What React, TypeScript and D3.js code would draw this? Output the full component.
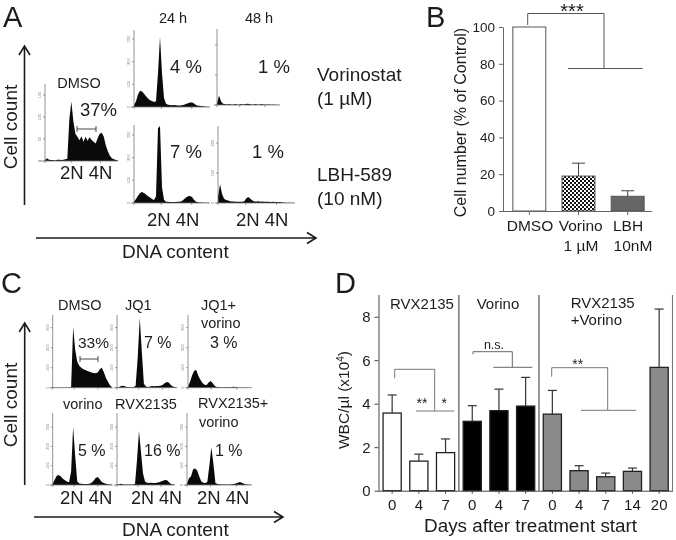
import React, { useRef, useEffect } from 'react';
import * as d3 from 'd3';

const FONT = '"Liberation Sans", Arial, sans-serif';
const INK = '#1c1c1c';
const GREY = '#666';

// Flow histograms, counts per channel
const aDmso = [2, 6, 3, 2, 2, 1, 3, 3, 2, 3, 4, 5, 95, 135, 90, 62, 55, 47, 56, 44, 55, 46, 54, 48, 44, 40, 52, 62, 64, 55, 35, 22, 12, 6, 4, 2, 1];
const aVorino24 = [8, 25, 55, 72, 68, 58, 48, 38, 30, 26, 22, 25, 150, 309, 150, 40, 14, 10, 9, 8, 9, 8, 7, 7, 8, 10, 13, 17, 20, 20, 15, 9, 6, 5, 3, 3, 1, 1, 0];
const aVorino48 = [5, 32, 12, 4, 3, 2, 3, 2, 2, 3, 2, 2, 3, 2, 3, 4, 3, 2, 2, 3, 2, 2, 3, 2, 2, 2, 2, 1, 2, 1, 1, 0];
const aLbh24 = [6, 18, 32, 44, 48, 44, 38, 30, 24, 18, 13, 30, 330, 340, 70, 14, 6, 5, 4, 4, 4, 4, 5, 6, 9, 16, 24, 30, 31, 27, 14, 6, 3, 2, 2, 1, 1, 1, 0];
const aLbh48 = [20, 63, 30, 14, 10, 8, 6, 5, 5, 4, 4, 4, 4, 6, 16, 20, 14, 8, 5, 5, 6, 4, 5, 4, 4, 4, 3, 4, 3, 3, 3, 3, 2, 2, 1, 1, 1, 1, 0];
const cDmso = [1, 1, 1, 1, 1, 1, 1, 1, 1, 3, 303, 190, 130, 110, 100, 92, 88, 84, 80, 76, 74, 72, 76, 92, 100, 78, 50, 30, 12, 2];
const cJq1 = [2, 3, 8, 10, 6, 3, 3, 2, 3, 8, 150, 348, 180, 20, 6, 4, 6, 8, 7, 8, 9, 10, 14, 22, 28, 26, 14, 6, 3, 1];
const cJq1Vorino = [6, 30, 62, 85, 88, 60, 40, 24, 15, 14, 26, 33, 22, 8, 4, 3, 2, 2, 2, 3, 2, 4, 5, 4, 2, 1, 1, 1, 1, 1, 0, 0];
const cVorino = [6, 28, 48, 52, 44, 32, 24, 18, 14, 70, 300, 150, 18, 8, 6, 5, 5, 5, 6, 12, 22, 36, 41, 30, 16, 10, 6, 4, 3, 1];
const cRvx = [2, 4, 6, 3, 2, 2, 2, 2, 2, 5, 130, 280, 170, 60, 18, 12, 10, 12, 10, 11, 12, 14, 18, 22, 26, 24, 14, 5, 2, 1];
const cRvxVorino = [8, 35, 45, 82, 85, 75, 45, 20, 12, 10, 15, 100, 195, 110, 10, 5, 4, 3, 3, 3, 3, 3, 4, 5, 8, 12, 15, 12, 6, 3, 2, 1, 0];

// Panel B
const bCategories = ['DMSO', 'Vorino', 'LBH'];
const bSubLabels = ['', '1 µM', '10nM'];
const bValues = [100, 19, 8];
const bErrors = [0, 26, 11];
const bTicks = [0, 20, 40, 60, 80, 100];

// Panel D
const dDays = ['0', '4', '7', '0', '4', '7', '0', '4', '7', '14', '20'];
const dValues = [3.57, 1.36, 1.75, 3.19, 3.68, 3.89, 3.52, 0.92, 0.64, 0.89, 5.67];
const dErrors = [4.4, 1.68, 2.38, 3.91, 4.67, 5.21, 4.61, 1.15, 0.81, 1.04, 8.35];
const dFills = ['#fff', '#fff', '#fff', '#000', '#000', '#000', '#8a8a8a', '#8a8a8a', '#8a8a8a', '#8a8a8a', '#8a8a8a'];
const dTicks = [0, 2, 4, 6, 8];

const App = () => {
  const svgRef = useRef<SVGSVGElement>(null);

  useEffect(() => {
    const svg = d3.select(svgRef.current);
    svg.selectAll('*').remove();
    svg.attr('font-family', FONT);

    const label = (txt: string, x: number, y: number, size: number, anchor = 'start', fill = INK) =>
      svg.append('text')
        .attr('x', x)
        .attr('y', y)
        .attr('font-size', size)
        .attr('text-anchor', anchor)
        .attr('fill', fill)
        .text(txt);

    const vLabel = (txt: string, x: number, y: number, size: number) =>
      svg.append('text')
        .attr('transform', `translate(${x},${y}) rotate(-90)`)
        .attr('font-size', size)
        .attr('text-anchor', 'middle')
        .attr('fill', INK)
        .text(txt);

    const arrow = (x1: number, y1: number, x2: number, y2: number) => {
      const dx = Math.sign(x2 - x1);
      const dy = Math.sign(y2 - y1);
      const p = d3.path();
      p.moveTo(x1, y1);
      p.lineTo(x2, y2);
      p.moveTo(x2 - dx * 9 - dy * 5.5, y2 - dy * 9 - dx * 5.5);
      p.lineTo(x2, y2);
      p.lineTo(x2 - dx * 9 + dy * 5.5, y2 - dy * 9 + dx * 5.5);
      svg.append('path')
        .attr('d', p.toString())
        .attr('fill', 'none')
        .attr('stroke', INK)
        .attr('stroke-width', 1.6);
    };

    // bracket: drop from (x1,y1) up to yTop, across to x2, down to y2, with a bar under it
    const bracket = (x1: number, y1: number, yTop: number, x2: number, y2: number, barL: number, barR: number, color: string) => {
      const p = d3.path();
      p.moveTo(x1, y1);
      p.lineTo(x1, yTop);
      p.lineTo(x2, yTop);
      p.lineTo(x2, y2);
      p.moveTo(barL, y2);
      p.lineTo(barR, y2);
      svg.append('path')
        .attr('d', p.toString())
        .attr('fill', 'none')
        .attr('stroke', color)
        .attr('stroke-width', 1);
    };

    const histogram = (
      values: number[],
      box: { left: number; right: number; top: number; base: number; stub?: number },
      yMax: number,
      yTicks: number[],
      showTickText = true,
    ) => {
      const x = d3.scaleLinear().domain([0, values.length - 1]).range([box.left, box.right]);
      const y = d3.scaleLinear().domain([0, yMax]).range([box.base, box.top]);
      const g = svg.append('g');

      const area = d3.area<number>()
        .x((d, i) => x(i))
        .y0(box.base)
        .y1(d => y(d));
      g.append('path').attr('d', area(values)).attr('fill', '#0a0a0a');

      g.append('line')
        .attr('x1', box.left).attr('x2', box.left)
        .attr('y1', box.top).attr('y2', box.base)
        .attr('stroke', '#777').attr('stroke-width', 0.8);
      g.append('line')
        .attr('x1', box.left - (box.stub ?? 3)).attr('x2', box.right)
        .attr('y1', box.base).attr('y2', box.base)
        .attr('stroke', '#777').attr('stroke-width', 0.8);

      yTicks.forEach(t => {
        g.append('line')
          .attr('x1', box.left - 2).attr('x2', box.left)
          .attr('y1', y(t)).attr('y2', y(t))
          .attr('stroke', '#777').attr('stroke-width', 0.7);
        if (showTickText) {
          g.append('text')
            .attr('transform', `translate(${box.left - 4},${y(t)}) rotate(-90)`)
            .attr('font-size', 4)
            .attr('text-anchor', 'middle')
            .attr('fill', '#888')
            .text(t);
        }
      });

      // channel ticks along the bottom
      [0, 0.36, 0.76].forEach(f => {
        const tx = box.left + (box.right - box.left) * f;
        g.append('line')
          .attr('x1', tx).attr('x2', tx)
          .attr('y1', box.base).attr('y2', box.base + 2)
          .attr('stroke', '#777').attr('stroke-width', 0.7);
      });
    };

    const gateBar = (x1: number, x2: number, y: number) => {
      const p = d3.path();
      p.moveTo(x1, y - 3);
      p.lineTo(x1, y + 3);
      p.moveTo(x1, y);
      p.lineTo(x2, y);
      p.moveTo(x2, y - 3);
      p.lineTo(x2, y + 3);
      svg.append('path').attr('d', p.toString()).attr('fill', 'none').attr('stroke', '#333').attr('stroke-width', 0.9);
    };

    // ---- Panel A
    label('A', 3, 27, 29);
    arrow(24.5, 205, 24.5, 46);
    vLabel('Cell count', 17, 127, 19);
    arrow(36, 238, 316, 238);
    label('DNA content', 122, 258, 19);

    histogram(aDmso, { left: 45, right: 118, top: 84, base: 161, stub: 6 }, 175, [0, 50, 100, 150]);
    histogram(aVorino24, { left: 134, right: 210, top: 30, base: 107 }, 340, [0, 100, 200, 300]);
    histogram(aVorino48, { left: 217, right: 280, top: 29, base: 105 }, 253, [0, 100, 200], false);
    histogram(aLbh24, { left: 134, right: 210, top: 125, base: 203 }, 344, [0, 100, 200, 300]);
    histogram(aLbh48, { left: 218, right: 295, top: 126, base: 203 }, 257, [0, 100, 200]);
    gateBar(77, 96, 129);

    label('24 h', 173, 23, 14.5, 'middle');
    label('48 h', 259, 23, 14.5, 'middle');
    label('DMSO', 79, 88, 14.5, 'middle');
    label('37%', 80, 116, 18.5);
    label('4 %', 170, 73, 18.5);
    label('1 %', 258, 73, 18.5);
    label('7 %', 170, 158, 18.5);
    label('1 %', 252, 158, 18.5);
    label('2N 4N', 60, 179, 18.5);
    label('2N 4N', 147, 226, 18.5);
    label('2N 4N', 236, 226, 18.5);
    label('Vorinostat', 317, 81, 19);
    label('(1 µM)', 317, 105, 19);
    label('LBH-589', 317, 181, 19);
    label('(10 nM)', 317, 205, 19);

    // ---- Panel B
    label('B', 426, 27, 29);
    const defs = svg.append('defs');
    const checker = defs.append('pattern')
      .attr('id', 'checker')
      .attr('width', 4)
      .attr('height', 4)
      .attr('patternUnits', 'userSpaceOnUse');
    checker.append('rect').attr('width', 4).attr('height', 4).attr('fill', '#fff');
    checker.append('rect').attr('width', 2).attr('height', 2).attr('fill', '#111');
    checker.append('rect').attr('x', 2).attr('y', 2).attr('width', 2).attr('height', 2).attr('fill', '#111');

    const bX = d3.scaleBand<string>().domain(bCategories).range([504, 653]).paddingInner(0.33).paddingOuter(0.18);
    const bY = d3.scaleLinear().domain([0, 100]).range([211, 27]);
    const bFills = ['#fff', 'url(#checker)', '#666'];

    bCategories.forEach((c, i) => {
      const cx = bX(c)! + bX.bandwidth() / 2;
      if (bErrors[i] > 0) {
        svg.append('line')
          .attr('x1', cx).attr('x2', cx)
          .attr('y1', bY(bValues[i])).attr('y2', bY(bErrors[i]))
          .attr('stroke', '#444').attr('stroke-width', 1);
        svg.append('line')
          .attr('x1', cx - 6.5).attr('x2', cx + 6.5)
          .attr('y1', bY(bErrors[i])).attr('y2', bY(bErrors[i]))
          .attr('stroke', '#444').attr('stroke-width', 1);
      }
    });
    svg.selectAll('.bar-b')
      .data(bValues)
      .enter()
      .append('rect')
      .attr('class', 'bar-b')
      .attr('x', (d, i) => bX(bCategories[i])!)
      .attr('y', d => bY(d))
      .attr('width', bX.bandwidth())
      .attr('height', d => 211 - bY(d))
      .attr('fill', (d, i) => bFills[i])
      .attr('stroke', '#555')
      .attr('stroke-width', 1);

    const bAxisY = svg.append('g')
      .attr('transform', 'translate(503,0)')
      .call(d3.axisLeft(bY).tickValues(bTicks).tickSize(4).tickSizeOuter(0));
    bAxisY.selectAll('path,line').attr('stroke', GREY);
    bAxisY.selectAll('text').attr('font-family', FONT).attr('font-size', 13.5).attr('fill', INK).attr('dx', -1);

    const bAxisX = svg.append('g')
      .attr('transform', 'translate(0,211)')
      .call(d3.axisBottom(bX).tickSize(4).tickSizeOuter(0).tickFormat(() => ''));
    bAxisX.selectAll('path,line').attr('stroke', GREY);
    bAxisX.select('path').attr('d', 'M503,0.5H652');

    bCategories.forEach((c, i) => {
      label(c, [530, 580.7, 628][i], 231, 15.5, 'middle');
      if (bSubLabels[i]) label(bSubLabels[i], [530, 581, 633][i], 251, 15.5, 'middle');
    });
    vLabel('Cell number (% of Control)', 466, 122.5, 16);
    bracket(527.7, 25, 13.5, 604, 68.5, 568, 642.7, '#555');
    label('***', 572, 18, 20, 'middle');

    // ---- Panel C
    label('C', 1, 293, 29);
    arrow(24.7, 485, 24.7, 323);
    vLabel('Cell count', 17, 405, 19);
    arrow(34, 517, 283, 517);
    label('DNA content', 122, 536, 19);

    const cTop = { top: 315, base: 387.7 };
    const cBottom = { top: 413, base: 485 };
    histogram(cDmso, { left: 52.7, right: 112, ...cTop }, 363, [0, 100, 200, 300]);
    histogram(cJq1, { left: 117, right: 177, ...cTop }, 363, [0, 100, 200, 300]);
    histogram(cJq1Vorino, { left: 188, right: 252, ...cTop }, 363, [0, 100, 200, 300]);
    histogram(cVorino, { left: 52.7, right: 112, ...cBottom }, 373, [0, 100, 200, 300]);
    histogram(cRvx, { left: 117, right: 175, ...cBottom }, 373, [0, 100, 200, 300]);
    histogram(cRvxVorino, { left: 187, right: 252, ...cBottom }, 373, [0, 100, 200, 300]);
    gateBar(80, 98, 359);

    label('DMSO', 58, 310, 14.5);
    label('JQ1', 125, 310, 14.5);
    label('JQ1+', 201, 310, 14.5);
    label('vorino', 201, 328, 14.5);
    label('33%', 78, 348, 15.5);
    label('7 %', 144, 348, 16);
    label('3 %', 210, 348, 16);
    label('vorino', 63, 409, 14.5);
    label('RVX2135', 115, 409, 14.5);
    label('RVX2135+', 198, 408, 14.5);
    label('vorino', 199, 427, 14.5);
    label('5 %', 78, 456, 16);
    label('16 %', 144, 456, 16);
    label('1 %', 215, 456, 16);
    label('2N 4N', 60, 504, 18.5);
    label('2N 4N', 131, 504, 18);
    label('2N 4N', 197, 504, 18.5);

    // ---- Panel D
    label('D', 335, 293, 29);
    const dX = d3.scaleBand<number>().domain(d3.range(dDays.length)).range([378.8, 672.5]).padding(0.32).paddingOuter(0.16);
    const dY = d3.scaleLinear().domain([0, 8]).range([490.7, 316.7]);
    const center = (i: number) => dX(i)! + dX.bandwidth() / 2;

    // dividers sit between the treatment groups
    [[3, '#444'], [6, '#444'], [11, '#777']].forEach(([i, color]) => {
      const xd = (i as number) < 11 ? center(i as number) - dX.step() / 2 : center(10) + dX.step() / 2;
      svg.append('line')
        .attr('x1', xd).attr('x2', xd)
        .attr('y1', 295).attr('y2', 490.7)
        .attr('stroke', color as string).attr('stroke-width', 1.1);
    });

    dValues.forEach((v, i) => {
      const cx = center(i);
      svg.append('line')
        .attr('x1', cx).attr('x2', cx)
        .attr('y1', dY(v)).attr('y2', dY(dErrors[i]))
        .attr('stroke', '#333').attr('stroke-width', 1.2);
      svg.append('line')
        .attr('x1', cx - 4.5).attr('x2', cx + 4.5)
        .attr('y1', dY(dErrors[i])).attr('y2', dY(dErrors[i]))
        .attr('stroke', '#333').attr('stroke-width', 1.2);
    });
    svg.selectAll('.bar-d')
      .data(dValues)
      .enter()
      .append('rect')
      .attr('class', 'bar-d')
      .attr('x', (d, i) => dX(i)!)
      .attr('y', d => dY(d))
      .attr('width', dX.bandwidth())
      .attr('height', d => 490.7 - dY(d))
      .attr('fill', (d, i) => dFills[i])
      .attr('stroke', '#222')
      .attr('stroke-width', 1.3);

    const dAxisY = svg.append('g')
      .attr('transform', 'translate(378.5,0)')
      .call(d3.axisLeft(dY).tickValues(dTicks).tickSize(4).tickSizeOuter(0));
    dAxisY.selectAll('path,line').attr('stroke', '#444');
    dAxisY.select('path').attr('d', 'M0.5,295V490.7');
    dAxisY.selectAll('text').attr('font-family', FONT).attr('font-size', 15).attr('fill', INK).attr('dx', -1);

    const dAxisX = svg.append('g')
      .attr('transform', 'translate(0,490.7)')
      .call(d3.axisBottom(dX).tickSize(3).tickSizeOuter(0).tickFormat(i => dDays[i as number]));
    dAxisX.selectAll('path,line').attr('stroke', '#444');
    dAxisX.select('path').attr('d', 'M378,0.5H673');
    dAxisX.selectAll('text').attr('font-family', FONT).attr('font-size', 15).attr('fill', INK).attr('y', 9);

    label('Days after treatment start', 424, 532, 18.9);
    label('RVX2135', 390, 309, 15);
    label('Vorino', 476.7, 309, 15);
    label('RVX2135', 570.7, 308, 15);
    label('+Vorino', 570.7, 325, 15);

    const yLab = vLabel('WBC/µl (x10', 349, 400, 15.5);
    yLab.append('tspan').attr('dy', -5).attr('font-size', 10).text('4');
    yLab.append('tspan').attr('dy', 5).text(')');

    bracket(394.7, 378.3, 369.3, 434.7, 411, 416, 454.3, '#777');
    label('**', 422, 408, 14, 'middle');
    label('*', 444.3, 408, 14, 'middle');
    bracket(473, 354.3, 351.7, 512.3, 367.3, 493.3, 532.3, '#666');
    label('n.s.', 494, 349, 12.5, 'middle');
    bracket(551.7, 376.7, 367.7, 607.7, 410.3, 581, 636.3, '#777');
    label('**', 577.7, 369, 14, 'middle');
  }, []);

  return <svg ref={svgRef} width={676} height={540} style={{ position: 'absolute', left: 0, top: 0, display: 'block', filter: 'blur(0.35px)' }}></svg>;
};

export default App;
